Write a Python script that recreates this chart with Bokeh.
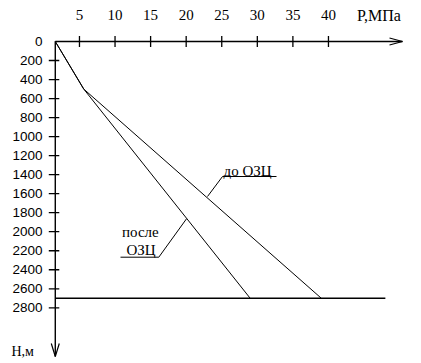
from bokeh.plotting import figure
from bokeh.models import Range1d
from bokeh.core.properties import value
from bokeh.embed import file_html
from bokeh.resources import INLINE

# ---- data ----
depth = [0, 500, 2700]            # H, m
p_before = [1.6, 5.6, 39.0]       # до ОЗЦ, MPa
p_after = [1.6, 5.6, 29.0]        # после ОЗЦ, MPa
bottom_depth = 2700               # забой, m
bottom_p_end = 48.0
x_ticks = [5, 10, 15, 20, 25, 30, 35, 40]
y_ticks = [200, 400, 600, 800, 1000, 1200, 1400, 1600, 1800, 2000,
           2200, 2400, 2600, 2800]
y_tick_labels = ["0"] + [str(v) for v in y_ticks]
x_title = "Р,МПа"
y_title = "Н,м"
label_before = "до ОЗЦ"
label_after_1 = "после"
label_after_2 = "ОЗЦ"

# ---- scale (pixels of the 421x363 canvas) ----
W, H = 421, 363
X0_PX, PX_PER_MPA = 43.4, 7.114
Y0_PX, PX_PER_M = 41.0, 0.09511


def dx(px):
    return (px - X0_PX) / PX_PER_MPA


def dy(py):
    return (py - Y0_PX) / PX_PER_M


def px(x):
    return X0_PX + x * PX_PER_MPA


def py(y):
    return Y0_PX + y * PX_PER_M


p = figure(width=W, height=H, output_backend="svg", toolbar_location=None,
           x_axis_location=None, y_axis_location=None, min_border=0,
           x_range=Range1d(dx(0), dx(W)), y_range=Range1d(dy(H), dy(0)),
           outline_line_color=None, background_fill_color="white",
           border_fill_color="white")
p.xgrid.visible = False
p.ygrid.visible = False

ox = p_before[0]          # axis origin (P)
oy = depth[0]             # axis origin (H)
ox_px, oy_px = px(ox), py(oy)

axis_w = 1.4
# axes lines
x_end = dx(402)
y_end = dy(356)
p.line([ox, x_end], [oy, oy], line_color="black", line_width=axis_w)
p.line([ox, ox], [oy, y_end], line_color="black", line_width=axis_w)
# arrow heads (open)
p.line([dx(389), x_end, dx(389)], [dy(oy_px - 3.5), oy, dy(oy_px + 3.5)],
       line_color="black", line_width=1.2)
p.line([dx(ox_px - 4), ox, dx(ox_px + 4)], [dy(343), y_end, dy(343)],
       line_color="black", line_width=1.2)

# ticks on top axis
p.segment(x0=x_ticks, x1=x_ticks, y0=[dy(oy_px - 5.5)] * len(x_ticks),
          y1=[dy(oy_px + 5.5)] * len(x_ticks), line_color="black",
          line_width=1.3)
# ticks on left axis
p.segment(x0=[dx(ox_px - 6.5)] * len(y_ticks), x1=[dx(ox_px + 4)] * len(y_ticks),
          y0=y_ticks, y1=y_ticks, line_color="black", line_width=1.3)

serif = value("Liberation Serif")
tick_font = value("Liberation Sans")
p.text(x=x_ticks, y=[dy(14.0)] * len(x_ticks), text=[str(v) for v in x_ticks],
       text_font=serif, text_font_size="15px", text_align="center",
       text_baseline="middle", text_color="black")
p.text(x=[dx(42)] * len(y_tick_labels), y=[0] + y_ticks, text=y_tick_labels,
       text_font=tick_font, text_font_size="13.5px", text_align="right",
       text_baseline="middle", text_color="black")

p.text(x=[dx(356.5)], y=[dy(14.5)], text=[x_title], text_font=serif,
       text_font_size="16px", text_align="left", text_baseline="middle",
       text_color="black")
p.text(x=[dx(11)], y=[dy(351)], text=[y_title], text_font=serif,
       text_font_size="14px", text_align="left", text_baseline="alphabetic",
       text_color="black")

# curves
p.line(p_before, depth, line_color="black", line_width=1)
p.line(p_after, depth, line_color="black", line_width=1)
# bottom line
p.line([ox, bottom_p_end], [bottom_depth, bottom_depth], line_color="black",
       line_width=1.4)

# callouts
p.line([dx(207), dx(222), dx(276)], [dy(196), dy(176), dy(176)],
       line_color="black", line_width=1)
p.text(x=[dx(223)], y=[dy(170.7)], text=[label_before], text_font=serif,
       text_font_size="15px", text_align="left", text_baseline="alphabetic",
       text_color="black")
p.line([dx(186), dx(158.3), dx(120)], [dy(218.3), dy(256.7), dy(256.7)],
       line_color="black", line_width=1)
p.text(x=[dx(121.5)], y=[dy(231.7)], text=[label_after_1], text_font=serif,
       text_font_size="15px", text_align="left", text_baseline="alphabetic",
       text_color="black")
p.text(x=[dx(126)], y=[dy(249.3)], text=[label_after_2], text_font=serif,
       text_font_size="15px", text_align="left", text_baseline="alphabetic",
       text_color="black")

open("out.html", "w").write(file_html(p, INLINE))
